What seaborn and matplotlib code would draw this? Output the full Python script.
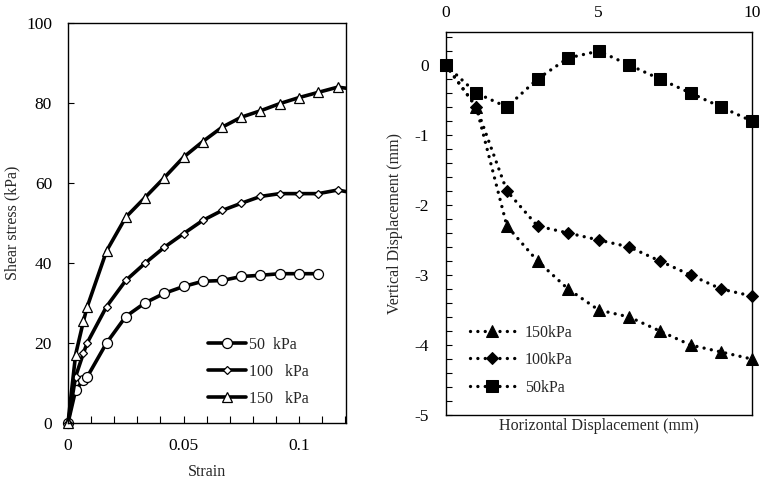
import numpy as np
import pandas as pd
import matplotlib
matplotlib.use("Agg")
import matplotlib.pyplot as plt
import seaborn as sns
from matplotlib.ticker import FixedLocator, MultipleLocator
from matplotlib.transforms import Bbox, TransformedBbox

sns.set_style("white")
plt.rcParams['font.family'] = ['Liberation Serif', 'DejaVu Serif']

# ---------------- Left panel data: shear stress vs strain ----------------
strain = [0, 0.0033, 0.0067, 0.0083, 0.0167, 0.025, 0.0333, 0.0417, 0.05,
          0.0583, 0.0667, 0.075, 0.0833, 0.0917, 0.1, 0.1083, 0.1167, 0.125]
tau_150 = [0, 17.1, 25.5, 29.0, 43.0, 51.4, 56.3, 61.3, 66.4,
           70.3, 73.9, 76.4, 78.0, 79.8, 81.3, 82.6, 83.9, 83.3]
tau_100 = [0, 11.6, 17.5, 20.0, 29.1, 35.6, 39.9, 43.9, 47.3,
           50.6, 53.1, 54.9, 56.6, 57.3, 57.3, 57.3, 58.2, 57.3]
strain_50 = strain[:16]
tau_50 = [0, 8.2, 10.8, 11.5, 20.0, 26.6, 30.0, 32.4, 34.1,
          35.4, 35.6, 36.6, 36.9, 37.3, 37.3, 37.3]
left_labels = ["50  kPa", "100   kPa", "150   kPa"]

# ---------------- Right panel data: vertical vs horizontal displacement ----------------
hdisp = [0, 1, 2, 3, 4, 5, 6, 7, 8, 9, 10]
v_150 = [0, -0.6, -2.3, -2.8, -3.2, -3.5, -3.6, -3.8, -4.0, -4.1, -4.2]
v_100 = [0, -0.6, -1.8, -2.3, -2.4, -2.5, -2.6, -2.8, -3.0, -3.2, -3.3]
v_50 = [0, -0.4, -0.6, -0.2, 0.1, 0.2, 0.0, -0.2, -0.4, -0.6, -0.8]
right_labels = ["150kPa", "100kPa", "50kPa"]

fig = plt.figure(figsize=(7.63, 4.80), dpi=100)
axL = fig.add_axes([68/763, 1-423/480, (346-68)/763, (423-22.7)/480])
axR = fig.add_axes([445.7/763, 1-415/480, (751.7-445.7)/763, (415-31.7)/480])

TICK_FS = 12.5
LAB_FS = 11.5
LEG_FS = 11.5

# ---- Left ----
lw = 2.6
common = dict(ax=axL, color='black', linewidth=lw, markerfacecolor='white',
              markeredgecolor='black', markeredgewidth=0.9, estimator=None, sort=False)
sns.lineplot(x=strain_50, y=tau_50, marker='o', markersize=7.2, label=left_labels[0], **common)
sns.lineplot(x=strain, y=tau_100, marker='D', markersize=4.0, label=left_labels[1], **common)
sns.lineplot(x=strain, y=tau_150, marker='^', markersize=7.6, label=left_labels[2], **common)
axL.set_xlim(0, 0.1203)
axL.set_ylim(0, 100)
clipL = TransformedBbox(Bbox([[-0.05, -0.05], [1.0, 1.0]]), axL.transAxes)
for ln in axL.lines:
    ln.set_clip_box(clipL)
axL.xaxis.set_major_locator(FixedLocator([0, 0.05, 0.1]))
axL.set_xticklabels(["0", "0.05", "0.1"])
axL.xaxis.set_minor_locator(MultipleLocator(0.01))
axL.yaxis.set_major_locator(MultipleLocator(20))
axL.tick_params(axis='both', which='both', direction='in', labelsize=TICK_FS, colors='black')
axL.tick_params(axis='x', which='both', length=5, width=0.8, pad=11, bottom=True)
axL.tick_params(axis='y', which='both', length=4, width=0.8, pad=11.5, left=True)
axL.set_xlabel("Strain", fontsize=LAB_FS, labelpad=7)
axL.set_ylabel("Shear stress (kPa)", fontsize=LAB_FS, labelpad=4)
for s in axL.spines.values():
    s.set_color('black'); s.set_linewidth(1.0)
legL = axL.legend(loc='upper left', bbox_to_anchor=(0.504, 0.215), frameon=False,
                  fontsize=LEG_FS, handlelength=2.4, handletextpad=0.15,
                  labelspacing=0.68, borderpad=0, borderaxespad=0)
for h in legL.get_lines():
    h.set_linewidth(lw)

# ---- Right ----
dot = (0, (0.01, 2.2))
rcommon = dict(ax=axR, color='black', linewidth=2.4, estimator=None, sort=False,
               markeredgecolor='black', markerfacecolor='black')
sns.lineplot(x=hdisp, y=v_150, marker='^', markersize=8.6, label=right_labels[0], **rcommon)
sns.lineplot(x=hdisp, y=v_100, marker='D', markersize=6.0, label=right_labels[1], **rcommon)
sns.lineplot(x=hdisp, y=v_50, marker='s', markersize=8.5, label=right_labels[2], **rcommon)
for ln in axR.lines:
    ln.set_linestyle(dot)
    ln.set_dash_capstyle('round')
    ln.set_clip_on(False)
axR.set_xlim(0, 10)
axR.set_ylim(-5, 0.476)
axR.xaxis.tick_top()
axR.xaxis.set_major_locator(FixedLocator([0, 5, 10]))
axR.yaxis.set_major_locator(MultipleLocator(1))
axR.yaxis.set_minor_locator(MultipleLocator(0.2))
axR.tick_params(axis='both', which='both', direction='in', labelsize=TICK_FS, colors='black')
axR.tick_params(axis='x', which='both', length=0, pad=7.5)
axR.tick_params(axis='y', which='both', length=4, width=0.8, pad=12, left=True)
axR.set_yticklabels([f"{int(v)}" for v in axR.get_yticks()])
axR.set_xlabel("Horizontal Displacement (mm)", fontsize=LAB_FS, labelpad=2)
axR.set_ylabel("Vertical Displacement (mm)", fontsize=LAB_FS, labelpad=8)
for s in axR.spines.values():
    s.set_color('black'); s.set_linewidth(1.0)
legR = axR.legend(loc='upper left', bbox_to_anchor=(0.079, 0.236), frameon=False,
                  fontsize=LEG_FS, handlelength=2.8, handletextpad=0.65,
                  labelspacing=0.72, borderpad=0, borderaxespad=0)
for h in legR.get_lines():
    h.set_linestyle(dot)
    h.set_dash_capstyle('round')
    h.set_linewidth(2.4)

fig.savefig("out.png", dpi=100)
